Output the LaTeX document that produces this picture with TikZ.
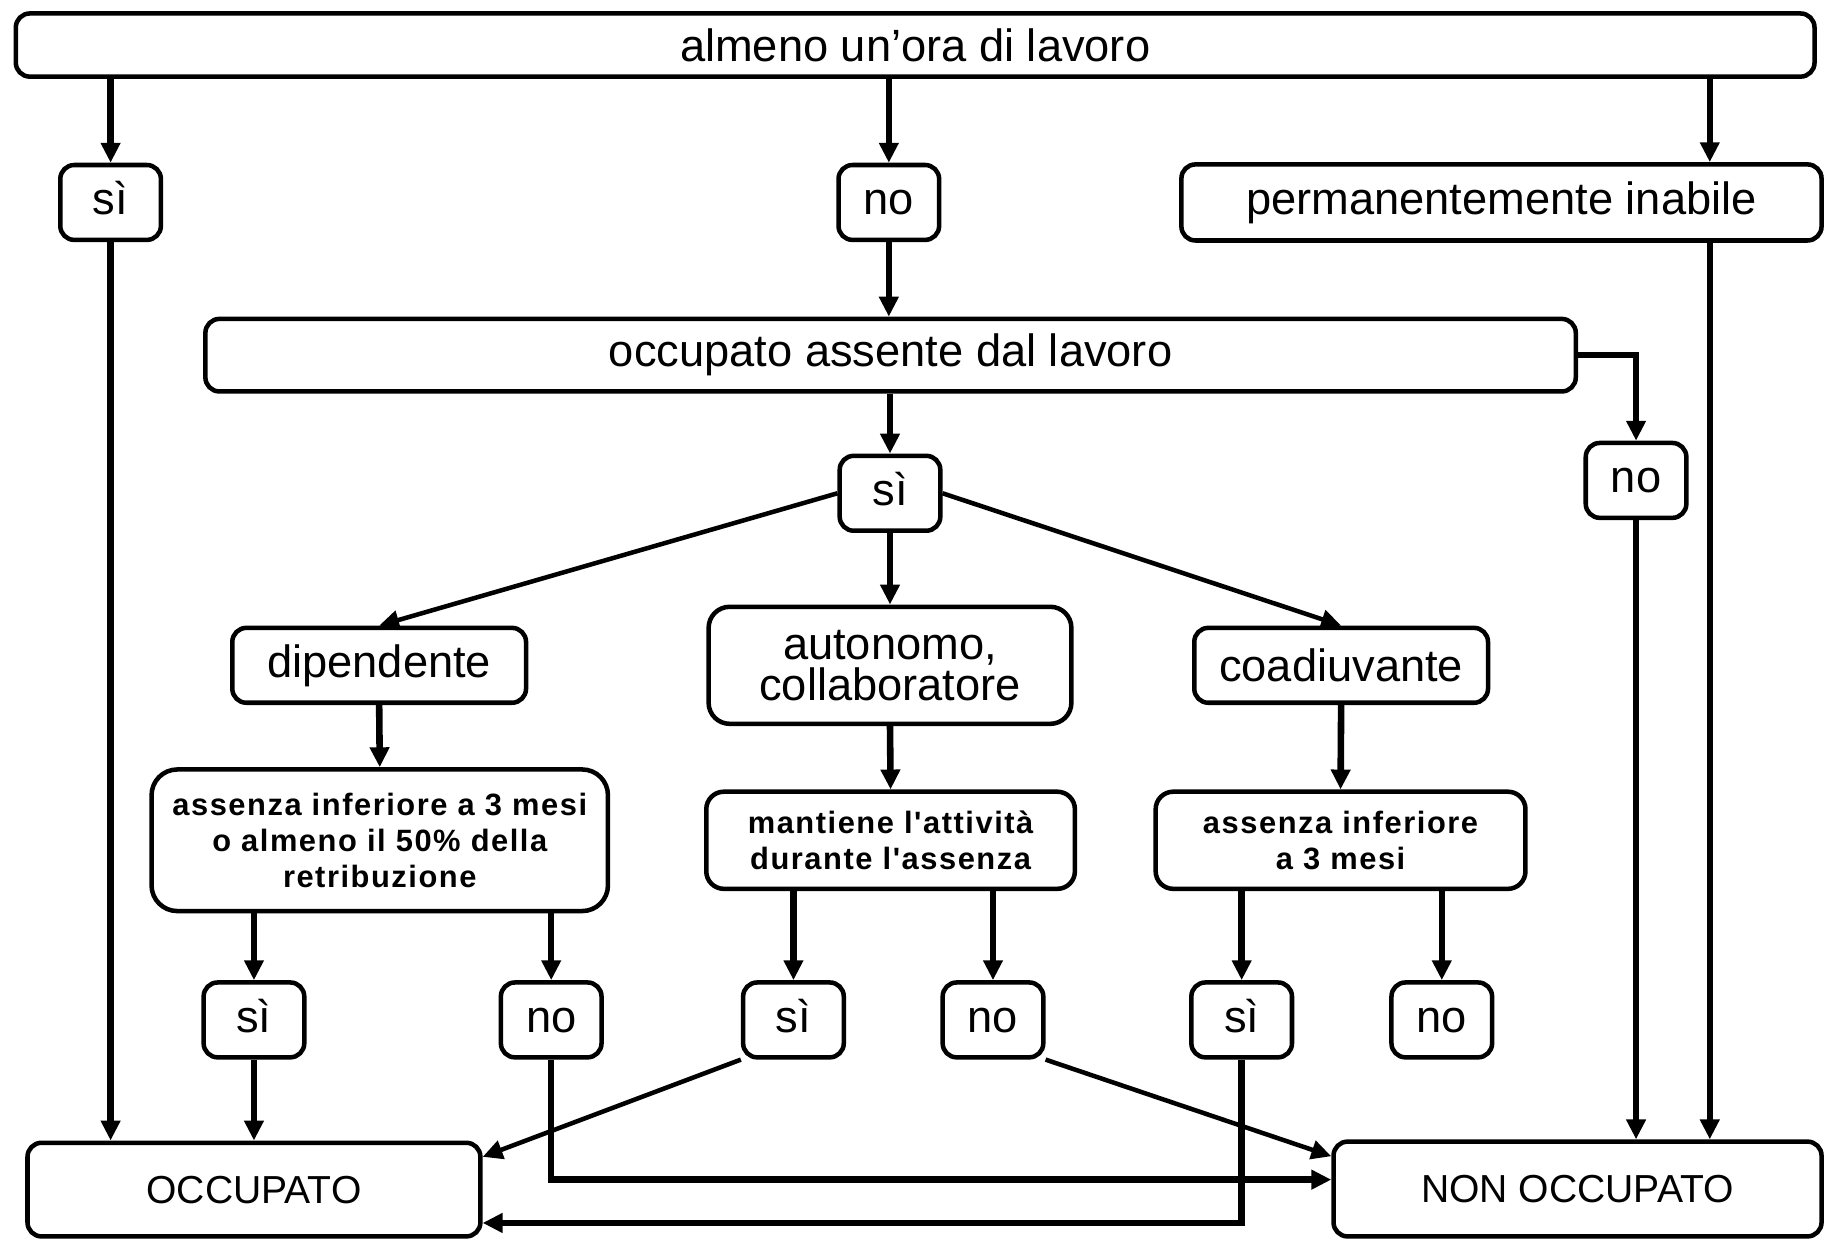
\documentclass[tikz,border=0pt]{standalone}
\usepackage{fontspec}
\setmainfont{Liberation Sans}
\newfontfamily\notefont{Liberation Sans}[LetterSpace=5]
\usetikzlibrary{arrows.meta}

\begin{document}
\begin{tikzpicture}[x=1mm, y=-1mm,
	box/.style={draw, line width=1.1pt, rounded corners=1.2mm, inner sep=0pt, align=center, font=\fontsize{11}{10}\selectfont},
	ans/.style={box, minimum width=8.6mm, minimum height=6.4mm, text height=6pt, text depth=0pt},
	note/.style={box, rounded corners=2.2mm, font=\notefont\bfseries\fontsize{7.5}{8.8}\selectfont},
	flow/.style={line width=1.6pt, -{Triangle[length=1.7mm, width=1.6mm]}},
	slant/.style={flow, line width=1.1pt}]
	\useasboundingbox (0,0) rectangle (156.8,106.0);
	\node (top)     at ( 78.20,   3.85)	[box, minimum width=153.7mm, minimum height=5.4mm]	{almeno un'ora di lavoro};
	\node (si1)     at (  9.45,  17.30)	[ans]	{sì};
	\node (no1)     at ( 75.95,  17.30)	[ans]	{no};
	\node (perm)    at (128.30,  17.30)	[box, minimum width=54.7mm, minimum height=6.5mm]	{permanentemente inabile};
	\node (assente) at ( 76.10,  30.35)	[box, minimum width=117.1mm, minimum height=6.2mm]	{occupato assente dal lavoro};
	\node (no2)     at (139.80,  41.05)	[ans]	{no};
	\node (si2)     at ( 76.05,  42.15)	[ans]	{sì};
	\node (dip)     at ( 32.40,  56.85)	[box, minimum width=25.1mm, minimum height=6.4mm]	{dipendente};
	\node (auto)    at ( 76.05,  56.85)	[box, rounded corners=1.8mm, minimum width=31mm, minimum height=10mm]	{autonomo,\\collaboratore};
	\node (coad)    at (114.60,  56.85)	[box, minimum width=25.1mm, minimum height=6.4mm]	{coadiuvante};
	\node (ass1)    at ( 32.45,  71.80)	[note, minimum width=39mm, minimum height=12.1mm]	{assenza inferiore a 3 mesi\\o almeno il 50\% della\\retribuzione};
	\node (mant)    at ( 76.10,  71.80)	[note, rounded corners=1.5mm, minimum width=31.5mm, minimum height=8.3mm]	{mantiene l'attività\\durante l'assenza};
	\node (ass2)    at (114.55,  71.80)	[note, rounded corners=1.5mm, minimum width=31.6mm, minimum height=8.3mm]	{assenza inferiore\\a 3 mesi};
	\node (si3)     at ( 21.70,  87.15)	[ans]	{sì};
	\node (no3)     at ( 47.10,  87.15)	[ans]	{no};
	\node (si4)     at ( 67.80,  87.15)	[ans]	{sì};
	\node (no4)     at ( 84.85,  87.15)	[ans]	{no};
	\node (si5)     at (106.10,  87.15)	[ans]	{sì};
	\node (no5)     at (123.20,  87.15)	[ans]	{no};
	\node (occ)     at ( 21.70, 101.65)	[box, font=\fontsize{9.5}{11}\selectfont, minimum width=38.7mm, minimum height=8mm]	{OCCUPATO};
	\node (nonocc)  at (134.80, 101.60)	[box, font=\fontsize{9.5}{11}\selectfont, minimum width=41.7mm, minimum height=8.1mm]	{NON OCCUPATO};
	\coordinate (rcol) at (146.1, 0);
	% first question
	\draw[flow] (top.south -| si1) -- (si1.north);
	\draw[flow] (top.south -| no1) -- (no1.north);
	\draw[flow] (top.south -| rcol) -- (perm.north -| rcol);
	\draw[flow] (si1.south) -- (occ.north -| si1);
	\draw[flow] (no1.south) -- (assente.north -| no1);
	\draw[flow] (perm.south -| rcol) -- (nonocc.north -| rcol);
	% absent from work
	\draw[flow] (assente.east) -| (no2.north);
	\draw[flow] (no2.south) -- (nonocc.north -| no2);
	\draw[flow] (assente.south -| si2) -- (si2.north);
	\draw[slant] (si2.west) -- (dip.north);
	\draw[flow] (si2.south) -- (auto.north);
	\draw[slant] (si2.east) -- (coad.north);
	\draw[flow] (dip.south) -- (ass1.north);
	\draw[flow] (auto.south) -- (mant.north);
	\draw[flow] (coad.south) -- (ass2.north);
	% answers
	\draw[flow] (ass1.south -| si3) -- (si3.north);
	\draw[flow] (ass1.south -| no3) -- (no3.north);
	\draw[flow] (mant.south -| si4) -- (si4.north);
	\draw[flow] (mant.south -| no4) -- (no4.north);
	\draw[flow] (ass2.south -| si5) -- (si5.north);
	\draw[flow] (ass2.south -| no5) -- (no5.north);
	% outcomes
	\draw[flow] (si3.south) -- (occ.north -| si3);
	\draw[slant] (si4.south west) -- ([yshift=2.8mm]occ.east);
	\draw[flow] (no3.south) |- ([yshift=0.8mm]nonocc.west);
	\draw[slant] (no4.south east) -- ([yshift=2.8mm]nonocc.west);
	\draw[flow] (si5.south) |- ([yshift=-2.85mm]occ.east);
\end{tikzpicture}
\end{document}
